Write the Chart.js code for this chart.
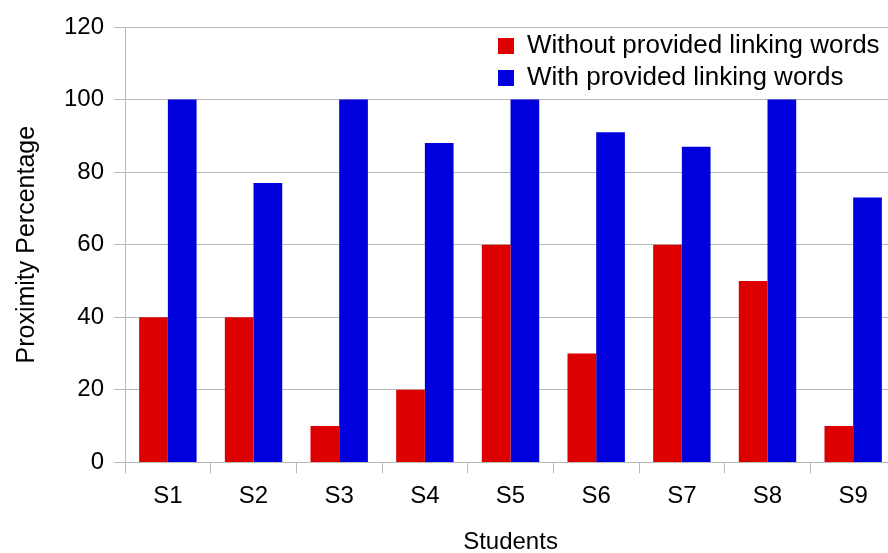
<!DOCTYPE html>
<html>
<head>
<meta charset="utf-8">
<script src="https://cdn.jsdelivr.net/npm/chart.js@4"></script>
<style>
  html, body { margin: 0; padding: 0; overflow: hidden; background: #fff; }
  canvas { display: block; }
</style>
</head>
<body>
<canvas id="chart" width="900" height="553"></canvas>
<script>
// chart data
const students = ['S1', 'S2', 'S3', 'S4', 'S5', 'S6', 'S7', 'S8', 'S9'];
const withoutWords = [40, 40, 10, 20, 60, 30, 60, 50, 10];
const withWords = [100, 77, 100, 88, 100, 91, 87, 100, 73];

const gridGray = '#b8b8b8';
const font = 'Liberation Sans, Arial, sans-serif';

// move the legend into the top right corner of the plot
const legendSpot = {
    id: 'legendSpot',
    afterLayout(chart) {
        const lg = chart.legend;
        const w = lg.width, h = lg.height;
        lg.left = 492;
        lg.right = lg.left + w;
        lg.top = 27;
        lg.bottom = lg.top + h;
    }
};

new Chart(document.getElementById('chart'), {
    type: 'bar',
    data: {
        labels: students,
        datasets: [
            {
                label: 'Without provided linking words',
                data: withoutWords,
                backgroundColor: '#dd0000'
            },
            {
                label: 'With provided linking words',
                data: withWords,
                backgroundColor: '#0000dd'
            }
        ]
    },
    options: {
        responsive: false,
        animation: false,
        datasets: {
            bar: { categoryPercentage: 0.67, barPercentage: 1.0 }
        },
        layout: { padding: { top: 27, right: 4, left: 12, bottom: 0 } },
        plugins: {
            legend: {
                position: 'chartArea',
                align: 'start',
                labels: {
                    boxWidth: 16,
                    boxHeight: 16,
                    padding: 6,
                    color: '#000',
                    font: { family: font, size: 26 }
                }
            },
            tooltip: { enabled: false }
        },
        scales: {
            x: {
                grid: { drawOnChartArea: false, drawTicks: true, tickLength: 11, color: gridGray, offset: true },
                border: { color: gridGray, width: 1 },
                ticks: { color: '#000', padding: 9, font: { family: font, size: 24 } },
                title: { display: true, text: 'Students', color: '#000', padding: { top: 8, bottom: -4 }, font: { family: font, size: 24 } }
            },
            y: {
                min: 0,
                max: 120,
                ticks: { stepSize: 20, color: '#000', padding: 10, font: { family: font, size: 24 } },
                grid: { color: gridGray, tickLength: 11 },
                border: { color: gridGray, width: 1 },
                title: { display: true, text: 'Proximity Percentage', color: '#000', padding: { top: 0, bottom: 12 }, font: { family: font, size: 25 } }
            }
        }
    },
    plugins: [legendSpot]
});
</script>
</body>
</html>
